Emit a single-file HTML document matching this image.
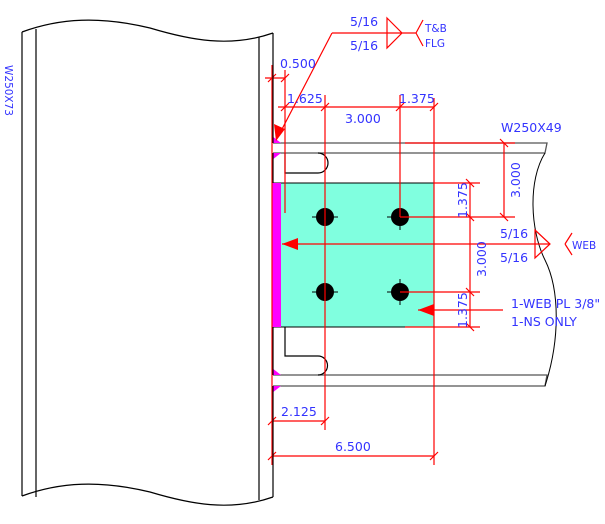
<!DOCTYPE html>
<html><head><style>body{margin:0;background:#fff}svg{display:block}text{font-family:"DejaVu Sans","Liberation Sans",sans-serif;font-size:12.5px;fill:#3333ff}</style></head><body>
<svg width="605" height="524" viewBox="0 0 605 524">
<rect x="272" y="183" width="162" height="144" fill="#80ffdf" stroke="#000" stroke-width="1"/>
<rect x="272" y="183" width="9" height="144" fill="#ff00ff"/>
<g stroke="#555" stroke-width="1.3" fill="none">
<path d="M273,143 H547 L545,153 H273"/>
<path d="M273,375 H547 L545,386 H273"/>
</g>
<path d="M545,153 C528,180 530,230 545,260 C560,290 560,340 545,386" stroke="#000" fill="none"/>
<g stroke="#000" stroke-width="1.2" fill="none">
<path d="M285,153 V173 H318 A10,10 0 0 0 318,153"/>
<path d="M285,327 V356 H318 A9.5,9.5 0 0 1 318,375"/>
</g>
<g fill="#ff00ff"><path d="M272,136 L281,143 H272Z"/><path d="M272,153 H281 L272,160Z"/><path d="M272,368 L281,375 H272Z"/><path d="M272,386 H281 L272,393Z"/></g>
<g fill="#000"><circle cx="325" cy="217" r="9"/><circle cx="400" cy="217" r="9"/><circle cx="325" cy="292" r="9"/><circle cx="400" cy="292" r="9"/></g>
<g stroke="#000" stroke-width="1"><path d="M312,217h26M325,204v26M387,217h26M400,204v26M312,292h26M325,279v26M387,292h26M400,279v26"/></g>
<g stroke="#ff0000" stroke-width="1.2" fill="none">
<line x1="272" y1="65" x2="272" y2="465"/>
<line x1="285" y1="70" x2="285" y2="213"/>
<line x1="325" y1="95" x2="325" y2="430"/>
<line x1="400" y1="95" x2="400" y2="217"/>
<line x1="434" y1="98" x2="434" y2="465"/>
<line x1="265" y1="78" x2="285" y2="78"/>
<line x1="278" y1="107" x2="434" y2="107"/>
<line x1="405" y1="143" x2="515" y2="143"/>
<line x1="504" y1="143" x2="504" y2="217"/>
<line x1="400" y1="217" x2="515" y2="217"/>
<line x1="434" y1="183" x2="480" y2="183"/>
<line x1="400" y1="292" x2="480" y2="292"/>
<line x1="405" y1="327" x2="480" y2="327"/>
<line x1="470" y1="183" x2="470" y2="327"/>
<line x1="282" y1="244" x2="550" y2="244"/>
<line x1="418" y1="310" x2="503" y2="310"/>
<line x1="272" y1="421" x2="325" y2="421"/>
<line x1="272" y1="456" x2="434" y2="456"/>
<path d="M268,82l8,-8M281,82l8,-8M281,111l8,-8M321,111l8,-8M396,111l8,-8M430,111l8,-8M500,139l8,8M500,213l8,8M466,179l8,8M466,213l8,8M466,288l8,8M466,323l8,8M268,425l8,-8M321,425l8,-8M268,460l8,-8M430,460l8,-8"/>
<path d="M332,33 H416 M387,18 L402,33 L387,48 Z M416,33 L423,20 M416,33 L423,46 M332,33 L280,133"/>
<path d="M535,230 L550,244 L535,258 Z M565,244 L572,233 M565,244 L572,255"/>
</g>
<g fill="#ff0000">
<path d="M276,141 L274,124 L285,129Z"/>
<path d="M282,244 L298,238 V250Z"/>
<path d="M418,310 L434,304 V316Z"/>
</g>
<g stroke="#000" stroke-width="1.2" fill="none">
<path d="M22,32 C60,18 100,16 150,28 C190,40 230,48 273,33"/>
<path d="M22,496 C60,482 100,480 150,492 C190,504 230,512 273,497"/>
<line x1="22" y1="32" x2="22" y2="496"/><line x1="36" y1="29" x2="36" y2="497"/>
<line x1="259" y1="37" x2="259" y2="500"/><line x1="273" y1="33" x2="273" y2="143"/>
<line x1="273" y1="153" x2="273" y2="183"/><line x1="273" y1="327" x2="273" y2="375"/>
<line x1="273" y1="386" x2="273" y2="497"/>
</g>
<text transform="translate(5,65) rotate(90)" style="font-size:10.5px">W250X73</text>
<text x="280" y="68">0.500</text>
<text x="287" y="103">1.625</text>
<text x="345" y="123">3.000</text>
<text x="399" y="103">1.375</text>
<text x="501" y="132">W250X49</text>
<text transform="translate(520,198) rotate(-90)">3.000</text>
<text transform="translate(467,218) rotate(-90)">1.375</text>
<text transform="translate(486,277) rotate(-90)">3.000</text>
<text transform="translate(467,328) rotate(-90)">1.375</text>
<text x="350" y="26">5/16</text>
<text x="350" y="50">5/16</text>
<text x="425" y="32" style="font-size:10.5px">T&amp;B</text>
<text x="425" y="47" style="font-size:10.5px">FLG</text>
<text x="500" y="238">5/16</text>
<text x="500" y="262">5/16</text>
<text x="572" y="249" style="font-size:10.5px">WEB</text>
<text x="511" y="308">1-WEB PL 3/8"</text>
<text x="511" y="326">1-NS ONLY</text>
<text x="281" y="416">2.125</text>
<text x="335" y="451">6.500</text>
</svg>
</body></html>
